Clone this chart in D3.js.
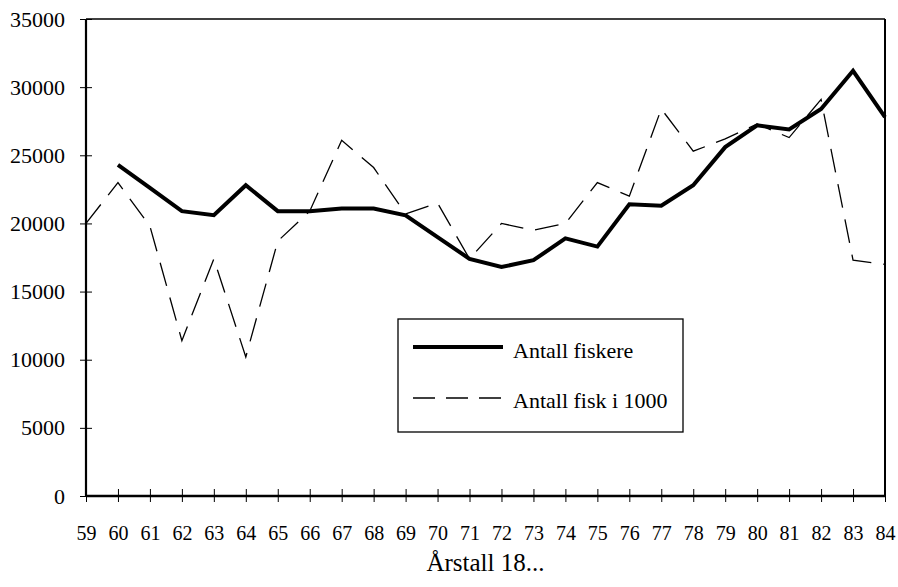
<!DOCTYPE html>
<html>
<head>
<meta charset="utf-8">
<script src="https://cdn.jsdelivr.net/npm/d3@7"></script>
<style>
  body { margin: 0; background: #fff; }
  svg text { font-family: "Liberation Serif", "Times New Roman", serif; fill: #000; }
</style>
</head>
<body>
<svg id="chart" width="898" height="587"></svg>
<script>
// years 1859..1884, shown as 59..84
var years = [59,60,61,62,63,64,65,66,67,68,69,70,71,72,73,74,75,76,77,78,79,80,81,82,83,84];

// Antall fiskere (starts 1860)
var fiskere = [null,24300,22600,20900,20600,22800,20900,20900,21100,21100,20600,19000,17400,16800,17300,18900,18300,21400,21300,22800,25600,27200,26900,28400,31200,27800];

// Antall fisk i 1000
var fisk = [20000,23000,19800,11400,17400,10200,18700,20900,26100,24100,20700,21500,17400,20000,19500,20000,23000,22000,28400,25300,26200,27300,26300,29100,17300,17000];

var yTicks = [0,5000,10000,15000,20000,25000,30000,35000];

var seriesNames = ["Antall fiskere", "Antall fisk i 1000"];
var xTitle = "Årstall 18...";

var svg = d3.select("#chart");
var svg_width  = +svg.attr("width");
var svg_height = +svg.attr("height");

var margin = {left: 86, right: 13, top: 19, bottom: 91},
    width  = svg_width  - margin.left - margin.right,
    height = svg_height - margin.top  - margin.bottom;

var xAxis = d3.scalePoint().domain( years ).range([ 0, width ]);
var yAxis = d3.scaleLinear().domain([ 0, 35000 ]).range([ height, 0 ]);

var g = svg.append("g")
    .attr("transform", "translate(" + margin.left + "," + margin.top + ")");

// frame (top + right thinner)
g.append("line").attr("x1", 0).attr("x2", width).attr("y1", 0).attr("y2", 0)
    .attr("stroke", "#000").attr("stroke-width", 1.6);
g.append("line").attr("x1", width).attr("x2", width).attr("y1", 0).attr("y2", height)
    .attr("stroke", "#000").attr("stroke-width", 2);

// y axis
var yg = g.append("g")
    .call(d3.axisLeft(yAxis).tickValues(yTicks).tickSize(6).tickPadding(15).tickFormat(d3.format("d")));
yg.select(".domain").remove();
yg.selectAll(".tick line").attr("x2", 6).attr("x1", -6).attr("stroke", "#000");
yg.selectAll(".tick text")
    .attr("font-size", 22)
    .attr("font-family", "Liberation Serif")
    .attr("fill", "#000");

// x axis
var xg = g.append("g")
    .attr("transform", "translate(0," + height + ")")
    .call(d3.axisBottom(xAxis).tickSize(6).tickPadding(24));
xg.select(".domain").remove();
xg.selectAll(".tick line").attr("y1", -7).attr("y2", 6).attr("stroke", "#000");
xg.selectAll(".tick text")
    .attr("font-size", 20)
    .attr("font-family", "Liberation Serif")
    .attr("fill", "#000");

// axis lines
g.append("line").attr("x1", 0).attr("x2", 0).attr("y1", 0).attr("y2", height)
    .attr("stroke", "#000").attr("stroke-width", 2.2);
g.append("line").attr("x1", 0).attr("x2", width).attr("y1", height).attr("y2", height)
    .attr("stroke", "#000").attr("stroke-width", 2.5);

// series
var line = d3.line()
    .defined(function(d){ return d[1] != null; })
    .x(function(d) { return xAxis(d[0]); })
    .y(function(d) { return yAxis(d[1]); });

g.append("path")
    .datum( years.map(function(y, i){ return [y, fisk[i]]; }) )
    .attr("fill", "none")
    .attr("stroke", "#000")
    .attr("stroke-width", 1.3)
    .attr("stroke-dasharray", "24,12")
    .attr("d", line);

g.append("path")
    .datum( years.map(function(y, i){ return [y, fiskere[i]]; }) )
    .attr("fill", "none")
    .attr("stroke", "#000")
    .attr("stroke-width", 4)
    .attr("stroke-linejoin", "miter")
    .attr("d", line);

// legend
var lg = svg.append("g").attr("transform", "translate(398,319)");
lg.append("rect")
    .attr("width", 285).attr("height", 113)
    .attr("fill", "#fff").attr("stroke", "#000").attr("stroke-width", 1.3);
lg.append("line").attr("x1", 15).attr("x2", 105).attr("y1", 28).attr("y2", 28)
    .attr("stroke", "#000").attr("stroke-width", 4);
lg.append("line").attr("x1", 15).attr("x2", 105).attr("y1", 79).attr("y2", 79)
    .attr("stroke", "#000").attr("stroke-width", 1.3).attr("stroke-dasharray", "22,11");
lg.append("text").attr("x", 115).attr("y", 39).attr("font-size", 22).text(seriesNames[0]);
lg.append("text").attr("x", 115).attr("y", 89).attr("font-size", 22).text(seriesNames[1]);

// x title
svg.append("text")
    .attr("x", margin.left + width / 2)
    .attr("y", 571)
    .attr("text-anchor", "middle")
    .attr("font-size", 25)
    .text(xTitle);
</script>
</body>
</html>
